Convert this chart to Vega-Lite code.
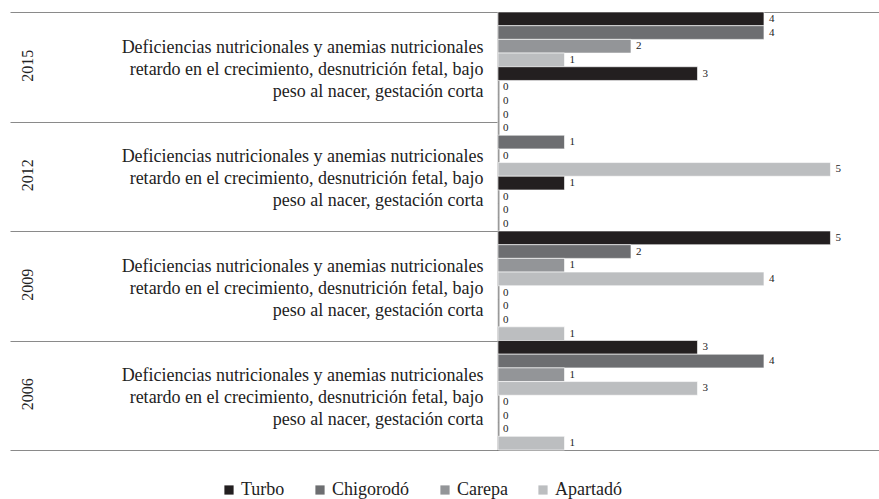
{
  "$schema": "https://vega.github.io/schema/vega-lite/v6.json",
  "width": 381,
  "height": 438,
  "autosize": {"type": "none"},
  "padding": {"left": 498, "top": 12, "right": 0, "bottom": 49},
  "background": "white",
  "config": {
    "view": {"stroke": "#8a8a8a", "strokeWidth": 1},
    "font": "Liberation Serif"
  },
  "data": {
    "values": [
      {"year": "2015", "k": "A-Turbo", "city": "Turbo", "value": 4},
      {"year": "2015", "k": "A-Chigorodó", "city": "Chigorodó", "value": 4},
      {"year": "2015", "k": "A-Carepa", "city": "Carepa", "value": 2},
      {"year": "2015", "k": "A-Apartadó", "city": "Apartadó", "value": 1},
      {"year": "2015", "k": "B-Turbo", "city": "Turbo", "value": 3},
      {"year": "2015", "k": "B-Chigorodó", "city": "Chigorodó", "value": 0},
      {"year": "2015", "k": "B-Carepa", "city": "Carepa", "value": 0},
      {"year": "2015", "k": "B-Apartadó", "city": "Apartadó", "value": 0},
      {"year": "2012", "k": "A-Turbo", "city": "Turbo", "value": 0},
      {"year": "2012", "k": "A-Chigorodó", "city": "Chigorodó", "value": 1},
      {"year": "2012", "k": "A-Carepa", "city": "Carepa", "value": 0},
      {"year": "2012", "k": "A-Apartadó", "city": "Apartadó", "value": 5},
      {"year": "2012", "k": "B-Turbo", "city": "Turbo", "value": 1},
      {"year": "2012", "k": "B-Chigorodó", "city": "Chigorodó", "value": 0},
      {"year": "2012", "k": "B-Carepa", "city": "Carepa", "value": 0},
      {"year": "2012", "k": "B-Apartadó", "city": "Apartadó", "value": 0},
      {"year": "2009", "k": "A-Turbo", "city": "Turbo", "value": 5},
      {"year": "2009", "k": "A-Chigorodó", "city": "Chigorodó", "value": 2},
      {"year": "2009", "k": "A-Carepa", "city": "Carepa", "value": 1},
      {"year": "2009", "k": "A-Apartadó", "city": "Apartadó", "value": 4},
      {"year": "2009", "k": "B-Turbo", "city": "Turbo", "value": 0},
      {"year": "2009", "k": "B-Chigorodó", "city": "Chigorodó", "value": 0},
      {"year": "2009", "k": "B-Carepa", "city": "Carepa", "value": 0},
      {"year": "2009", "k": "B-Apartadó", "city": "Apartadó", "value": 1},
      {"year": "2006", "k": "A-Turbo", "city": "Turbo", "value": 3},
      {"year": "2006", "k": "A-Chigorodó", "city": "Chigorodó", "value": 4},
      {"year": "2006", "k": "A-Carepa", "city": "Carepa", "value": 1},
      {"year": "2006", "k": "A-Apartadó", "city": "Apartadó", "value": 3},
      {"year": "2006", "k": "B-Turbo", "city": "Turbo", "value": 0},
      {"year": "2006", "k": "B-Chigorodó", "city": "Chigorodó", "value": 0},
      {"year": "2006", "k": "B-Carepa", "city": "Carepa", "value": 0},
      {"year": "2006", "k": "B-Apartadó", "city": "Apartadó", "value": 1}
    ]
  },
  "resolve": {"axis": {"y": "independent"}},
  "layer": [
    {
      "mark": {"type": "bar", "stroke": "white", "strokeWidth": 0.6},
      "encoding": {
        "y": {
          "field": "year", "type": "nominal",
          "sort": ["2015", "2012", "2009", "2006"],
          "scale": {"paddingInner": 0, "paddingOuter": 0},
          "axis": {
            "orient": "left",
            "title": null,
            "tickBand": "extent",
            "tickSize": 488,
            "tickColor": "#8a8a8a",
            "tickWidth": 1,
            "domain": true,
            "domainColor": "#333333",
            "domainWidth": 1.5,
            "grid": false,
            "labels": false
          }
        },
        "yOffset": {
          "field": "k", "type": "nominal",
          "scale": {
            "domain": ["A-Turbo", "A-Chigorodó", "A-Carepa", "A-Apartadó", "B-Turbo", "B-Chigorodó", "B-Carepa", "B-Apartadó"],
            "paddingInner": 0, "paddingOuter": 0
          }
        },
        "x": {
          "field": "value", "type": "quantitative",
          "scale": {"domain": [0, 5.73], "nice": false},
          "axis": null
        },
        "color": {
          "field": "city", "type": "nominal",
          "scale": {
            "domain": ["Turbo", "Chigorodó", "Carepa", "Apartadó"],
            "range": ["#231f20", "#6d6e71", "#939598", "#bcbec0"]
          },
          "legend": {
            "title": null,
            "orient": "none",
            "direction": "horizontal",
            "legendX": -278,
            "legendY": 469,
            "symbolType": "square",
            "symbolSize": 85,
            "symbolStrokeWidth": 0,
            "labelFont": "Liberation Serif",
            "labelFontSize": 18,
            "labelColor": "#222222",
            "columnPadding": 26,
            "labelOffset": 3
          }
        }
      }
    },
    {
      "mark": {"type": "text", "align": "left", "baseline": "middle", "dx": 5, "fontSize": 11, "font": "Liberation Serif", "color": "#222222"},
      "encoding": {
        "y": {
          "field": "year", "type": "nominal",
          "sort": ["2015", "2012", "2009", "2006"],
          "axis": {
            "orient": "left",
            "title": null,
            "ticks": false,
            "domain": false,
            "grid": false,
            "labelExpr": "['Deficiencias nutricionales y anemias nutricionales', 'retardo en el crecimiento, desnutrición fetal, bajo', 'peso al nacer, gestación corta']",
            "labelPadding": 15,
            "labelAlign": "right",
            "labelBaseline": "middle",
            "labelLineHeight": 22,
            "labelFont": "Liberation Serif",
            "labelFontSize": 18,
            "labelColor": "#222222",
            "labelLimit": 0,
            "labelOffset": -19
          }
        },
        "yOffset": {
          "field": "k", "type": "nominal",
          "scale": {
            "domain": ["A-Turbo", "A-Chigorodó", "A-Carepa", "A-Apartadó", "B-Turbo", "B-Chigorodó", "B-Carepa", "B-Apartadó"]
          }
        },
        "x": {"field": "value", "type": "quantitative", "axis": null},
        "text": {"field": "value", "type": "quantitative"}
      }
    },
    {
      "mark": {"type": "text", "opacity": 0},
      "encoding": {
        "y": {
          "field": "year", "type": "nominal",
          "sort": ["2015", "2012", "2009", "2006"],
          "axis": {
            "orient": "left",
            "title": null,
            "ticks": false,
            "domain": false,
            "grid": false,
            "labelAngle": 270,
            "labelAlign": "center",
            "labelBaseline": "middle",
            "labelPadding": 471,
            "labelOffset": -1,
            "labelFont": "Liberation Serif",
            "labelFontSize": 16,
            "labelColor": "#222222"
          }
        }
      }
    }
  ]
}
